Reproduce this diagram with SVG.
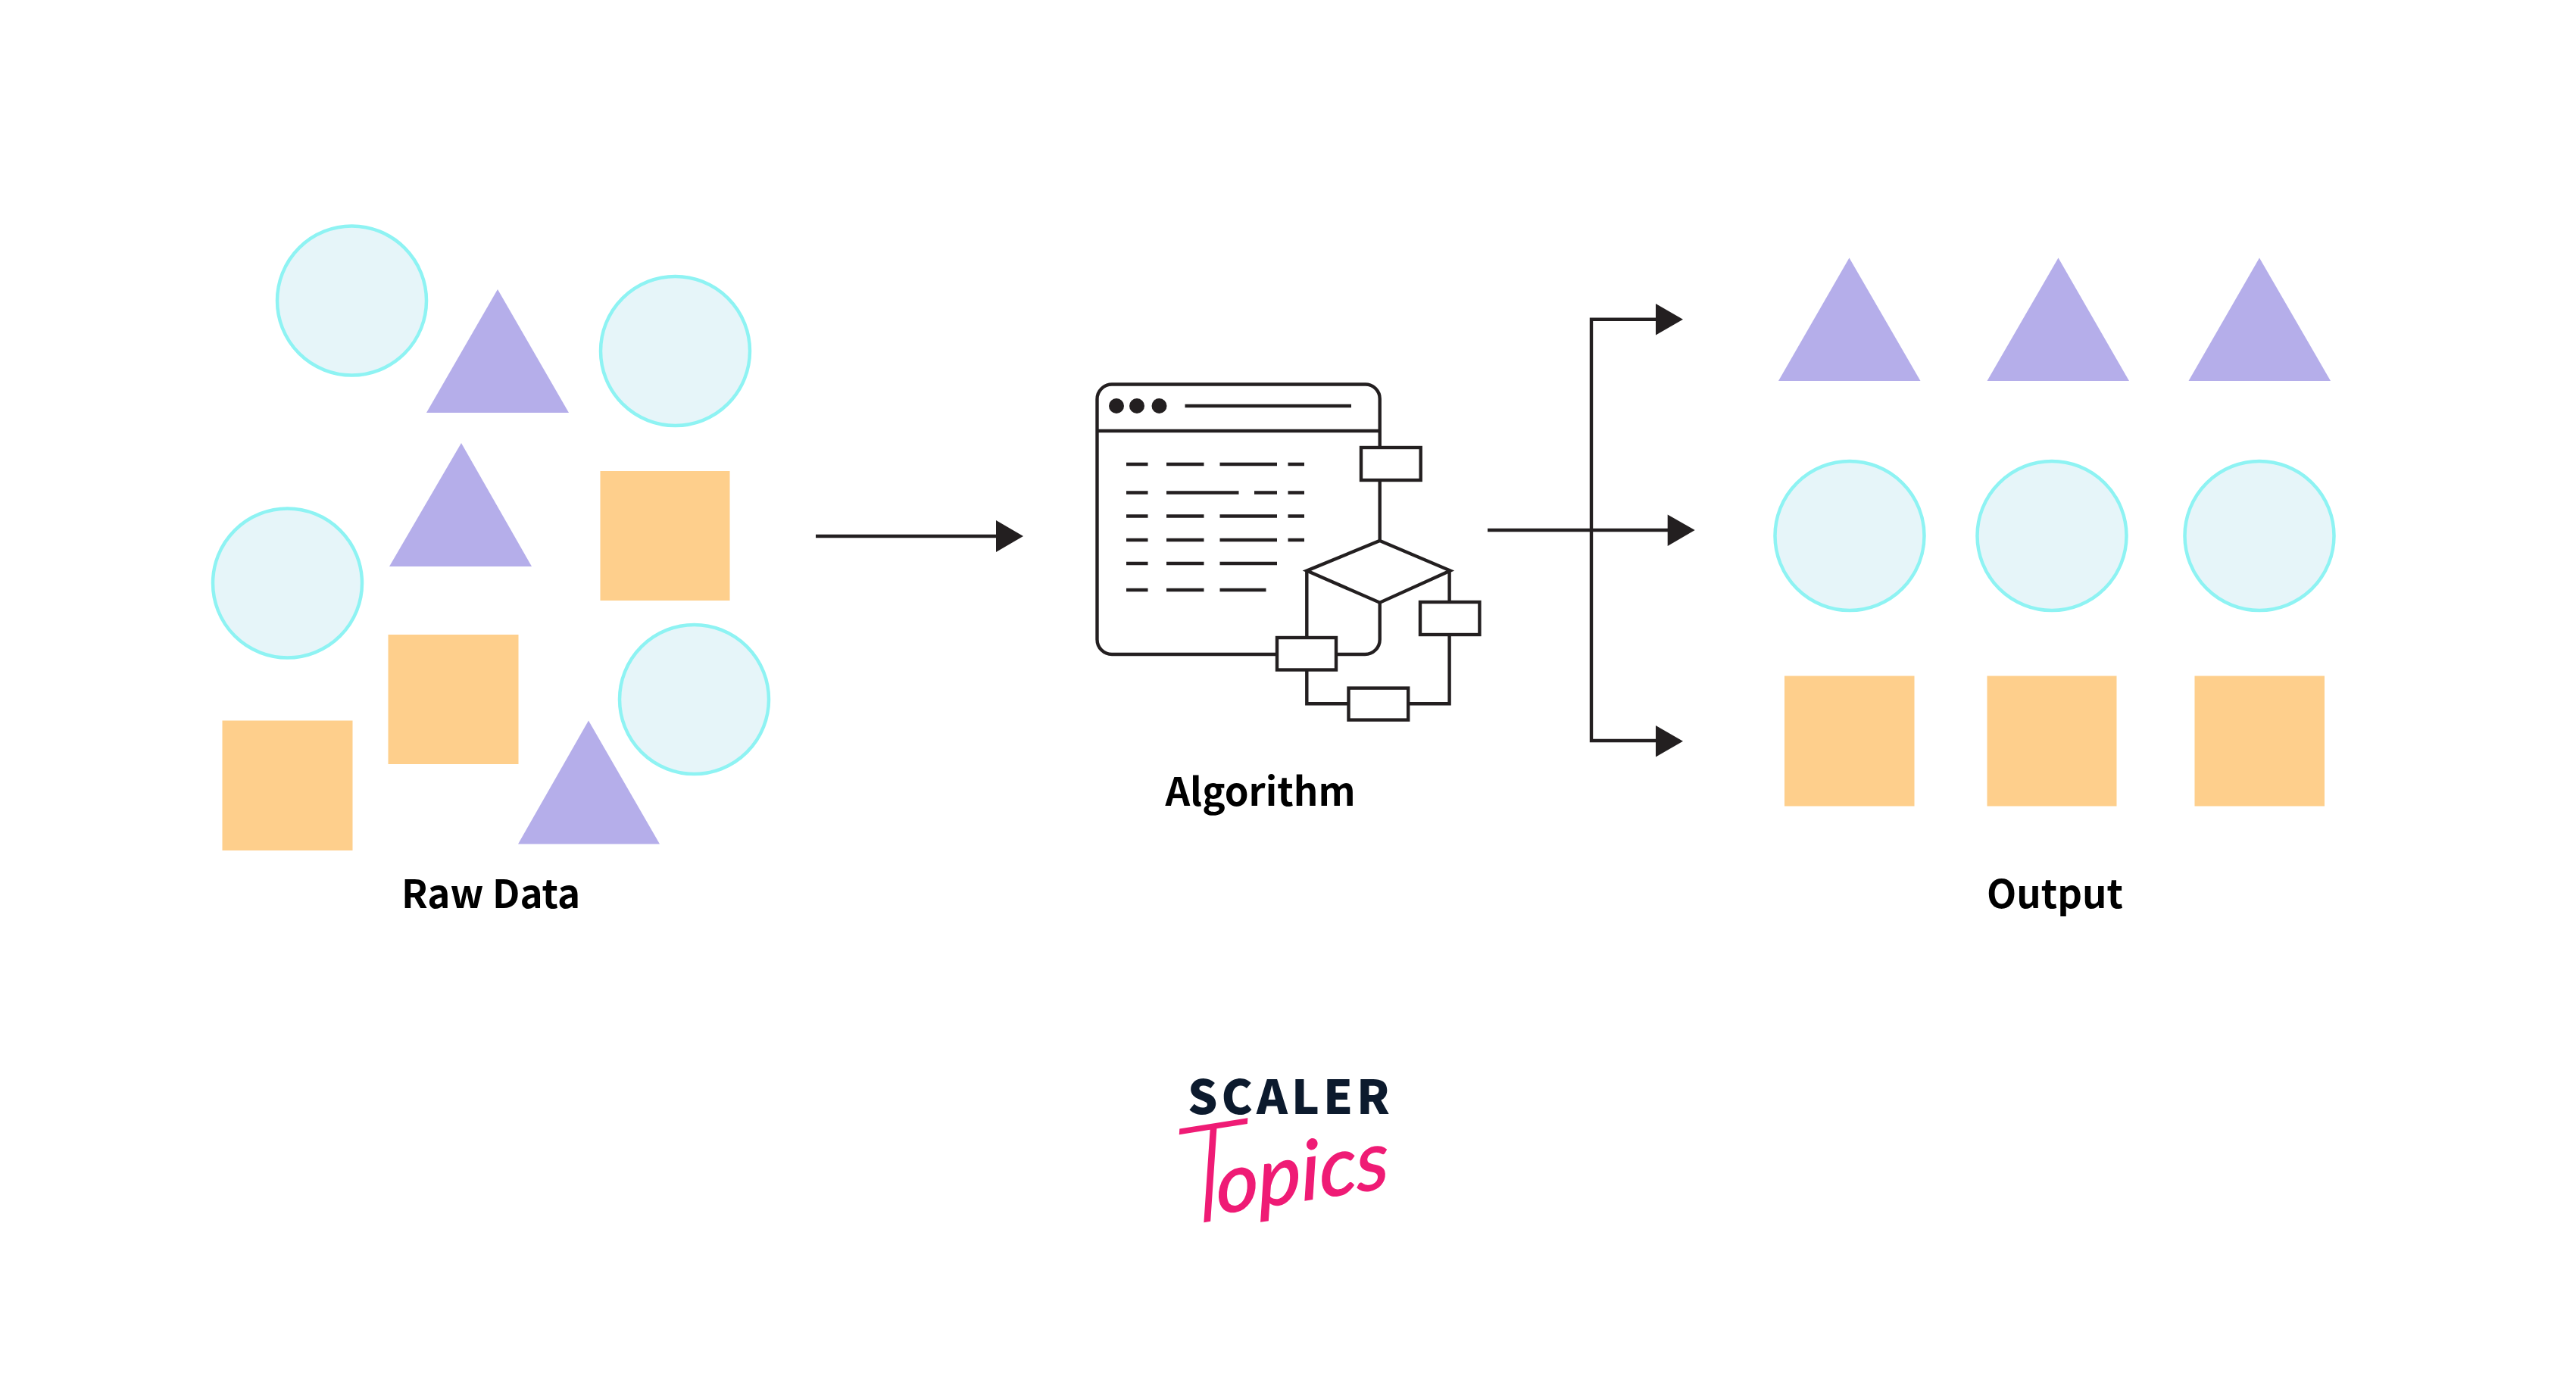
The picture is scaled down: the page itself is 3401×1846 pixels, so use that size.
<svg xmlns="http://www.w3.org/2000/svg" width="3401" height="1846" viewBox="0 0 3401 1846">
<style>
.c{fill:#e6f5f9;stroke:#8ef3f3;stroke-width:4.500}
.t{fill:#b5aeea}
.s{fill:#fecf8c}
.ln{fill:none;stroke:#231f20;stroke-width:4.400}
.bx{fill:#fff;stroke:#231f20;stroke-width:4.400}
.cd{stroke:#231f20;stroke-width:4.400;fill:none}
.hd{fill:#231f20}
.lb{font-family:"Noto Sans CJK JP","Noto Sans",sans-serif;font-weight:700;font-size:51px;fill:#000}
</style>
<rect width="3401" height="1846" fill="#fff"/>
<g id="raw-data">
<circle class="c" cx="464.500" cy="397" r="98.500"/>
<circle class="c" cx="891.500" cy="463.500" r="98.500"/>
<circle class="c" cx="379.500" cy="770" r="98.500"/>
<circle class="c" cx="916.500" cy="923.500" r="98.500"/>
<polygon class="t" points="657,382 751,545 563,545"/>
<polygon class="t" points="609,585 702,748 514,748"/>
<polygon class="t" points="777,951.500 871,1114.500 684,1114.500"/>
<rect class="s" x="792.500" y="622" width="171" height="171"/>
<rect class="s" x="512.500" y="838" width="172" height="171"/>
<rect class="s" x="293.500" y="951.500" width="172" height="171.500"/>
<text class="lb" x="648" y="1199" text-anchor="middle">Raw Data</text>
</g>
<g id="algorithm">
<path class="ln" d="M1821.700 591V527a19 19 0 0 0-19-19.500H1468a19.500 19.500 0 0 0-19.500 19.500V844.500a19.500 19.500 0 0 0 19.500 19.500H1802.200a19.500 19.500 0 0 0 19.500-19.500V796"/>
<path class="ln" d="M1448.500 569H1821.700"/>
<circle class="hd" cx="1474" cy="536" r="10"/>
<circle class="hd" cx="1501" cy="536" r="10"/>
<circle class="hd" cx="1530.500" cy="536" r="10"/>
<path class="ln" d="M1564.500 536H1784"/>
<path class="cd" d="M1487 613H1515.500M1540 613H1589.500M1610.500 613H1686M1700.500 613H1722M1487 650.500H1515.500M1540 650.500H1635.500M1656 650.500H1686M1700.500 650.500H1722M1487 681.500H1515.500M1540 681.500H1589.500M1610.500 681.500H1686M1700.500 681.500H1722M1487 713H1515.500M1540 713H1589.500M1610.500 713H1686M1700.500 713H1722M1487 744H1515.500M1540 744H1589.500M1610.500 744H1686M1487 779H1515.500M1540 779H1589.500M1610.500 779H1671.500"/>
<path class="ln" d="M1821.700 634V714M1725.300 753.500V929.300H1780.500M1859 929.300H1913.600V838M1913.600 795V753.500"/>
<polygon class="bx" points="1821.700,714 1914.700,753.600 1821.700,795.700 1725.300,753.600"/>
<rect class="bx" x="1797" y="591" width="78.700" height="43"/>
<rect class="bx" x="1875" y="795" width="78.400" height="43"/>
<rect class="bx" x="1686" y="842" width="78" height="42.500"/>
<rect class="bx" x="1780.500" y="908.600" width="78.700" height="42"/>
<text class="lb" x="1664" y="1064" text-anchor="middle">Algorithm</text>
</g>
<g id="output">
<polygon class="t" points="2441.500,340.500 2535.500,503 2348,503"/>
<polygon class="t" points="2717.500,340.500 2811,503 2623.500,503"/>
<polygon class="t" points="2983,340.500 3077,503 2889.500,503"/>
<circle class="c" cx="2442" cy="707.500" r="98.500"/>
<circle class="c" cx="2709" cy="707.500" r="98.500"/>
<circle class="c" cx="2983" cy="707.500" r="98.500"/>
<rect class="s" x="2356" y="892.500" width="171.500" height="172"/>
<rect class="s" x="2623.500" y="892.500" width="171" height="172"/>
<rect class="s" x="2897.500" y="892.500" width="171.500" height="172"/>
<text class="lb" x="2713" y="1199" text-anchor="middle">Output</text>
</g>
<g id="connectors">
<path class="ln" d="M1077 708H1316M1964 700H2203M2186 421.800H2101V978H2186"/>
<polygon class="hd" points="1315,687 1351,708 1315,729"/>
<polygon class="hd" points="2186,401 2222,421.800 2186,442.600"/>
<polygon class="hd" points="2201.700,679.500 2237.700,700 2201.700,721"/>
<polygon class="hd" points="2186,958 2222,978.800 2186,999.600"/>
</g>
<g id="logo">
<text x="1568" y="1471" font-family="'Noto Sans CJK JP','Noto Sans',sans-serif" font-weight="900" font-size="62" letter-spacing="5" fill="#0c1a2d">SCALER</text>
<text transform="translate(1553 1620) rotate(-9) skewX(-6)" font-family="Lato,'Liberation Sans',sans-serif" font-style="italic" font-weight="300" fill="#ef1b75"><tspan font-size="180">T</tspan><tspan font-size="108" font-weight="400" dx="-40" dy="-8" stroke="#ef1b75" stroke-width="1.500">opics</tspan></text>
</g>
</svg>
